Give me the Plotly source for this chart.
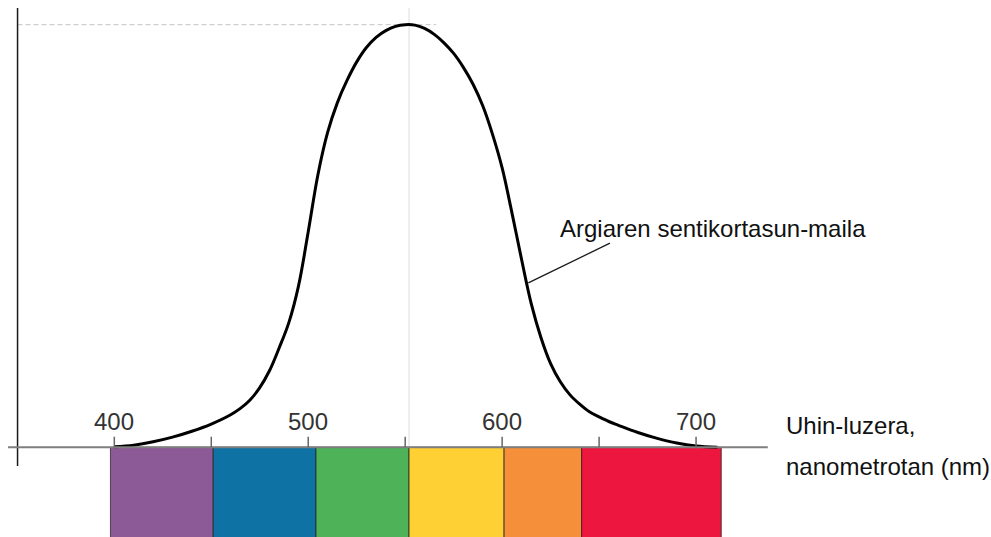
import plotly.graph_objects as go

# Photopic luminosity curve (relative sensitivity vs wavelength in nm)
wavelength_nm = [400, 410, 420, 430, 440, 450, 460, 465, 470, 475, 480, 485, 490, 495, 500,
                 505, 510, 515, 520, 525, 530, 535, 540, 545, 550, 555, 560, 565, 570, 575,
                 580, 585, 590, 595, 600, 605, 610, 615, 620, 625, 630, 635, 640, 645, 650,
                 655, 660, 670, 680, 690, 700, 711]
sensitivity = [0.001, 0.005, 0.013, 0.024, 0.038, 0.055, 0.077, 0.092, 0.112, 0.141, 0.181,
               0.235, 0.295, 0.382, 0.510, 0.645, 0.745, 0.815, 0.868, 0.912, 0.946, 0.970,
               0.986, 0.996, 1.000, 0.999, 0.991, 0.977, 0.957, 0.932, 0.899, 0.859, 0.808,
               0.741, 0.661, 0.556, 0.445, 0.340, 0.260, 0.198, 0.155, 0.124, 0.102, 0.084,
               0.072, 0.061, 0.052, 0.035, 0.021, 0.010, 0.003, 0.0]

peak_nm = 552
tick_values = [400, 450, 500, 550, 600, 650, 700]
tick_labels = {400: "400", 500: "500", 600: "600", 700: "700"}

# Spectrum colour bands (edges in nm)
band_edges = [398, 451, 504, 552, 601, 641, 713]
band_colors = ["#8C5A96", "#0E72A5", "#4DB258", "#FED034", "#F68F3A", "#EC163E"]

curve_label = "Argiaren sentikortasun-maila"
axis_label_lines = ["Uhin-luzera,", "nanometrotan (nm)"]

FONT = "Liberation Sans, Arial, Helvetica, sans-serif"
X_RANGE = [341.05, 852.1]
Y_RANGE = [-0.2123, 1.0584]

fig = go.Figure()
shapes = []

# colour bands under the axis
for i, col in enumerate(band_colors):
    shapes.append(dict(type="rect", xref="x", yref="y",
                       x0=band_edges[i], x1=band_edges[i + 1], y0=-0.3, y1=0,
                       fillcolor=col, line=dict(color="rgba(40,30,30,0.75)", width=1),
                       layer="below"))

# vertical guide at the peak and dashed peak level
shapes.append(dict(type="line", x0=peak_nm, x1=peak_nm, y0=0, y1=1.04,
                   line=dict(color="#dcdcdc", width=1), layer="below"))
shapes.append(dict(type="line", x0=350.1, x1=566, y0=1.0, y1=1.0,
                   line=dict(color="#c4c4c4", width=1, dash="5px,3px"), layer="below"))

# axes
shapes.append(dict(type="line", x0=350.1, x1=350.1, y0=-0.044, y1=1.0395,
                   line=dict(color="#1a1a1a", width=1.5)))
shapes.append(dict(type="line", x0=345.2, x1=737, y0=0, y1=0,
                   line=dict(color="#7f7f7f", width=2)))
for t in tick_values:
    shapes.append(dict(type="line", x0=t, x1=t, y0=0, y1=0.025,
                       line=dict(color="#666666", width=1.5)))

# leader line from the label to the curve
shapes.append(dict(type="line", x0=655.6, y0=0.483, x1=613.5, y1=0.389,
                   line=dict(color="#1a1a1a", width=1.3)))

fig.add_trace(go.Scatter(x=wavelength_nm, y=sensitivity, mode="lines",
                         line=dict(color="#000000", width=3, shape="spline", smoothing=1.0),
                         hoverinfo="skip", showlegend=False))

annotations = []
for t, lab in tick_labels.items():
    annotations.append(dict(x=t, y=0.0606, text=lab, showarrow=False,
                            xanchor="center", yanchor="middle",
                            font=dict(family=FONT, size=24, color="#333333")))
annotations.append(dict(x=628.7, y=0.518, text=curve_label, showarrow=False,
                        xanchor="left", yanchor="middle",
                        font=dict(family=FONT, size=24, color="#111111")))
annotations.append(dict(x=745.4, y=0.052, text=axis_label_lines[0], showarrow=False,
                        xanchor="left", yanchor="middle",
                        font=dict(family=FONT, size=24, color="#111111")))
annotations.append(dict(x=745.4, y=-0.046, text=axis_label_lines[1], showarrow=False,
                        xanchor="left", yanchor="middle",
                        font=dict(family=FONT, size=24, color="#111111")))

fig.update_layout(
    width=991, height=537,
    margin=dict(l=0, r=0, t=0, b=0),
    paper_bgcolor="white", plot_bgcolor="white",
    xaxis=dict(range=X_RANGE, visible=False, fixedrange=True),
    yaxis=dict(range=Y_RANGE, visible=False, fixedrange=True),
    shapes=shapes, annotations=annotations,
    showlegend=False,
)

fig.write_html("out.html")
